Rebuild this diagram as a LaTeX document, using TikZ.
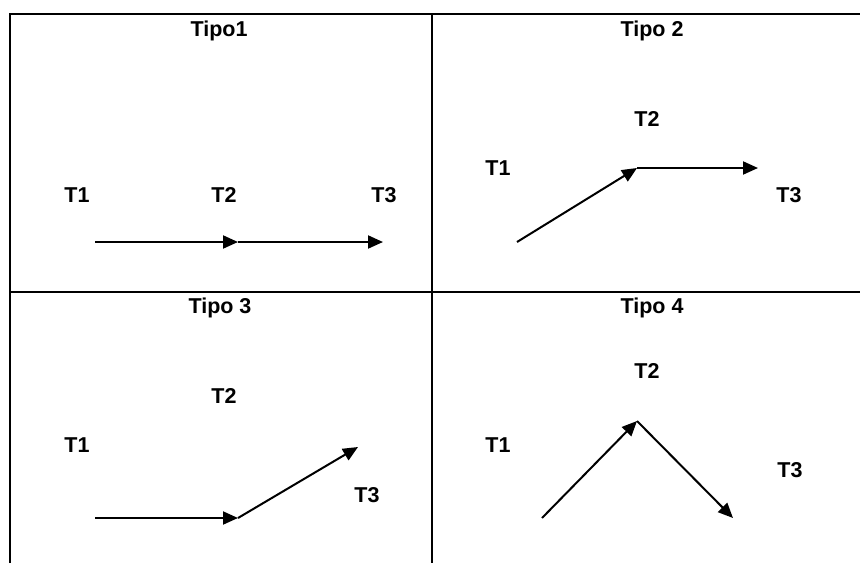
\documentclass[tikz,border=0pt]{standalone}
\usepackage{fontspec}
\setmainfont{Liberation Sans}
\usetikzlibrary{arrows.meta}
\definecolor{INKblack}{HTML}{000000}
\newcommand{\labfont}{\fontsize{21.5}{26}\selectfont\bfseries}

\begin{document}
\begin{tikzpicture}[x=1pt, y=-1pt, >={Triangle[length=15pt, width=13pt]}, font=\labfont,
    lab/.style={anchor=base, inner sep=0pt, INKblack},
    arr/.style={INKblack, line width=2pt, ->},
    grid/.style={INKblack, line width=2.2pt}]
    \useasboundingbox (0,0) rectangle (860,563);
    % table rules (open at the right and bottom)
    \draw[grid] (10,563) -- (10,14) -- (860,14);
    \draw[grid] (432,14) -- (432,563);
    \draw[grid] (10,292) -- (860,292);
    % Tipo1: straight on
    \node[lab] (tipoA) at (219,36) {Tipo1};
    \node[lab] (a1) at (77,202) {T1};
    \node[lab] (a2) at (224,202) {T2};
    \node[lab] (a3) at (384,202) {T3};
    \coordinate (pa1) at (95,242);
    \coordinate (pa2) at (238,242);
    \coordinate (pa3) at (383,242);
    \draw[arr] (pa1) -- (pa2);
    \draw[arr] (pa2) -- (pa3);
    % Tipo 2: rise, then level
    \node[lab] (tipoB) at (652,36) {Tipo 2};
    \node[lab] (b1) at (498,175) {T1};
    \node[lab] (b2) at (647,126) {T2};
    \node[lab] (b3) at (789,202) {T3};
    \coordinate (pb1) at (517,242);
    \coordinate (pb2) at (637,168);
    \coordinate (pb3) at (758,168);
    \draw[arr] (pb1) -- (pb2);
    \draw[arr] (pb2) -- (pb3);
    % Tipo 3: level, then rise
    \node[lab] (tipoC) at (220,313) {Tipo 3};
    \node[lab] (c1) at (77,452) {T1};
    \node[lab] (c2) at (224,403) {T2};
    \node[lab] (c3) at (367,502) {T3};
    \coordinate (pc1) at (95,518);
    \coordinate (pc2) at (238,518);
    \coordinate (pc3) at (358,447);
    \draw[arr] (pc1) -- (pc2);
    \draw[arr] (pc2) -- (pc3);
    % Tipo 4: rise, then fall
    \node[lab] (tipoD) at (652,313) {Tipo 4};
    \node[lab] (d1) at (498,452) {T1};
    \node[lab] (d2) at (647,378) {T2};
    \node[lab] (d3) at (790,477) {T3};
    \coordinate (pd1) at (542,518);
    \coordinate (pd2) at (637,421);
    \coordinate (pd3) at (733,518);
    \draw[arr] (pd1) -- (pd2);
    \draw[arr] (pd2) -- (pd3);
  \end{tikzpicture}
\end{document}
